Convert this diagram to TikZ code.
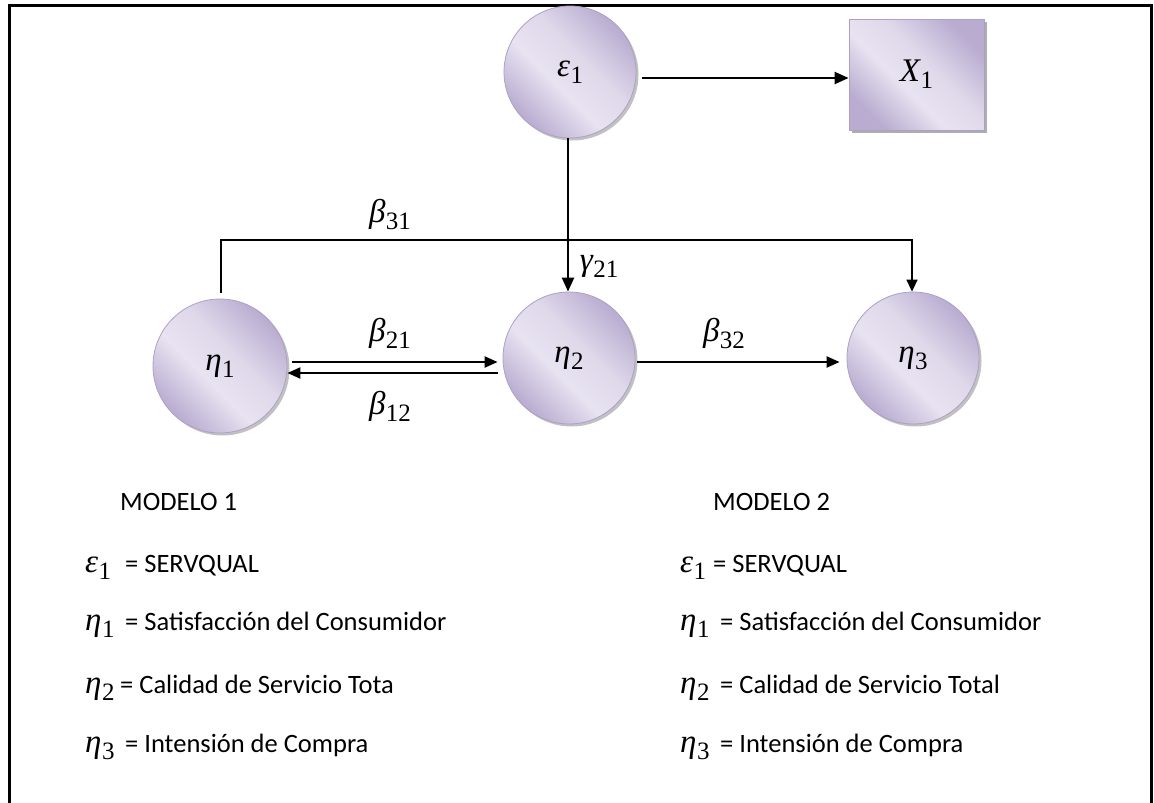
\RequirePackage{fix-cm}
\documentclass[tikz,border=0pt]{standalone}
\usepackage[no-math]{fontspec}
\setmainfont{Carlito}
\newfontfamily\mfont{Liberation Serif}
\newcommand{\gs}[2]{\mbox{\mfont\fontsize{33}{36}\selectfont\itshape #1}\kern0.5pt\raisebox{-7pt}{\mfont\fontsize{25}{25}\selectfont #2}}
\usetikzlibrary{arrows.meta,shadows}
\definecolor{lavD}{HTML}{B9ACD0}
\definecolor{lavL}{HTML}{E8E3F1}
\definecolor{lavM}{HTML}{DED8EA}
\definecolor{lavB}{HTML}{AE9FC6}
\pgfdeclarehorizontalshading{lavshade}{100bp}{color(0bp)=(lavD); color(25bp)=(lavD); color(43bp)=(lavL); color(57bp)=(lavM); color(75bp)=(lavD); color(100bp)=(lavD)}
\tikzset{
  latent/.style={circle, draw=lavB, line width=0.8pt, minimum size=132pt, inner sep=0pt,
    shading=lavshade, shading angle=45,
    drop shadow={shadow xshift=2.5pt, shadow yshift=-2.5pt, opacity=0.35, fill=black!70}},
  manifest/.style={rectangle, draw=lavB, line width=0.8pt, minimum width=135pt, minimum height=111pt,
    inner sep=0pt, shading=lavshade, shading angle=45,
    drop shadow={shadow xshift=3pt, shadow yshift=-3pt, opacity=0.45, fill=black!70}},
  arr/.style={line width=2.2pt, -{Triangle[length=14pt,width=12pt]}},
  arrs/.style={line width=2.2pt, -{Triangle[length=13pt,width=11pt]}},
  thinarr/.style={line width=1.5pt, -{Triangle[length=12pt,width=11pt]}},
  lab/.style={inner sep=0pt},
  legm/.style={inner sep=0pt, anchor=base west},
  legt/.style={font=\fontsize{26.5}{30}\selectfont, inner sep=0pt, anchor=base west},
}
\begin{document}
\begin{tikzpicture}[x=1pt,y=-1pt]
\useasboundingbox (0,0) rectangle (1154,803);
\begin{scope}
\clip (0,0) rectangle (1154,803);
\draw[line width=3pt] (9.5,5.5) rectangle (1151.5,830);
\end{scope}
% nodes
\node[latent] (e1) at (570,72) {\gs{ε}{1}};
\node[manifest] (x1) at (916.5,74.5) {\gs{X}{1}};
\node[latent, minimum size=134pt] (n1) at (220,366) {\gs{η}{1}};
\node[latent] (n2) at (569,358) {\gs{η}{2}};
\node[latent] (n3) at (913,358) {\gs{η}{3}};
% connectors
\draw[arr] ([xshift=6pt,yshift=-6pt]e1.east) -- ([yshift=-3.5pt]x1.west);
\draw[arr] ([xshift=-2pt]e1.south) -- ([xshift=-1pt]n2.north);
\coordinate (c31) at (0,240);
\draw[thinarr] ([xshift=1pt,yshift=6pt]n1.north) -- ([xshift=1pt]n1.north |- c31) -- ([xshift=-1pt]n3.north |- c31) -- ([xshift=-1pt]n3.north);
\draw[arrs] ([xshift=5pt,yshift=4pt]n1.east) -- ([xshift=-5pt,yshift=-4pt]n2.west);
\draw[arrs] ([xshift=-5pt,yshift=-15pt]n2.west) -- ([yshift=-7pt]n1.east);
\draw[arrs] ([xshift=2pt,yshift=-4pt]n2.east) -- ([xshift=-7pt,yshift=-4pt]n3.west);
% labels
\node[lab] (b31) at (390,215) {\gs{β}{31}};
\node[lab] (g21) at (599,266) {\gs{γ}{21}};
\node[lab] (b21) at (390,333) {\gs{β}{21}};
\node[lab] (b12) at (390,406) {\gs{β}{12}};
\node[lab] (b32) at (724,334) {\gs{β}{32}};
% legend left
\node[legt] (m1) at (120,510) {MODELO 1};
\node[legm] (le1) at (85,572) {\gs{ε}{1}};
\node[legt] (lt1) at (125,572) {= SERVQUAL};
\node[legm] (ln1) at (85,630) {\gs{η}{1}};
\node[legt] (lt2) at (125,630) {= Satisfacción del Consumidor};
\node[legm] (ln2) at (85,693) {\gs{η}{2}};
\node[legt] (lt3) at (120,693) {= Calidad de Servicio Tota};
\node[legm] (ln3) at (85,752) {\gs{η}{3}};
\node[legt] (lt4) at (125,752) {= Intensión de Compra};
% legend right
\node[legt] (m2) at (713,510) {MODELO 2};
\node[legm] (re1) at (680,572) {\gs{ε}{1}};
\node[legt] (rt1) at (713,572) {= SERVQUAL};
\node[legm] (rn1) at (680,630) {\gs{η}{1}};
\node[legt] (rt2) at (720,630) {= Satisfacción del Consumidor};
\node[legm] (rn2) at (680,693) {\gs{η}{2}};
\node[legt] (rt3) at (720,693) {= Calidad de Servicio Total};
\node[legm] (rn3) at (680,752) {\gs{η}{3}};
\node[legt] (rt4) at (720,752) {= Intensión de Compra};
\end{tikzpicture}
\end{document}
